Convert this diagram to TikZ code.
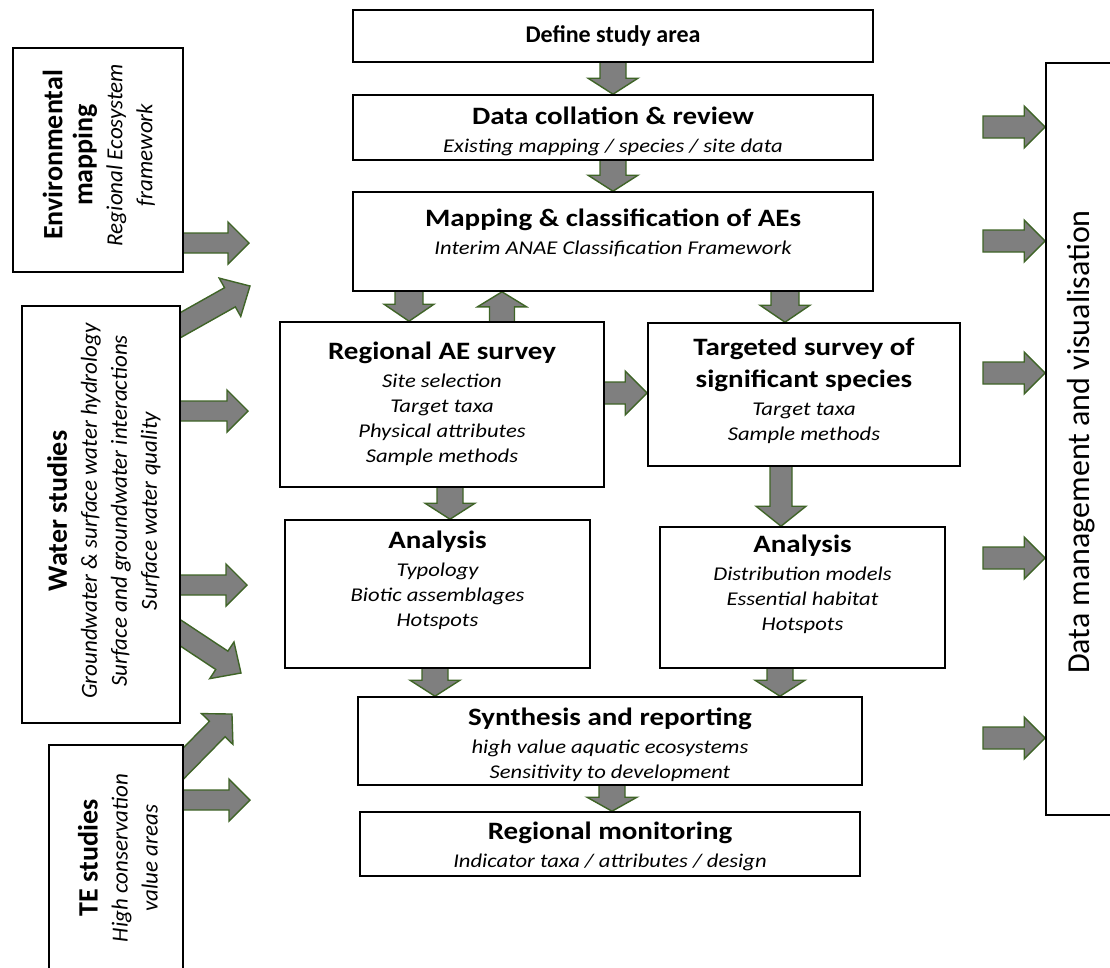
\documentclass[tikz,border=0pt]{standalone}
\usepackage{fontspec}
\setmainfont{Carlito}
\newfontfamily\widefont{Carlito}[FakeStretch=1.16]
\usetikzlibrary{calc}

\definecolor{arrowfill}{HTML}{7F7F7F}
\definecolor{arrowedge}{HTML}{3F6427}

\pgfdeclarelayer{under}
\pgfsetlayers{under,main}

% block arrow from #1 to #2: shaft half-width #3, head half-width #4, head length #5
\newcommand\blockarrow[5]{%
  \path let \p1=(#1), \p2=(#2) in
    \pgfextra{%
      \pgfmathsetmacro\baang{atan2(\y2-\y1,\x2-\x1)}%
      \pgfmathsetmacro\balen{veclen(\x2-\x1,\y2-\y1)}%
      \xdef\baang{\baang}\xdef\balen{\balen}};
  \begin{pgfonlayer}{under}
  \draw[fatarrow, shift={(#1)}, rotate=\baang]
    (0,#3) -- (\balen-#5,#3) -- (\balen-#5,#4) -- (\balen,0)
    -- (\balen-#5,-#4) -- (\balen-#5,-#3) -- (0,-#3) -- cycle;
  \end{pgfonlayer}
}

\tikzset{
  fatarrow/.style={draw=arrowedge, fill=arrowfill, line width=1.4pt, line join=miter},
  box/.style={draw=black, fill=white, line width=1.6pt, inner sep=0pt},
  boxtext/.style={align=center, inner sep=0pt,
    font=\widefont\fontsize{19.5}{25}\selectfont\itshape},
  sidetext/.style={rotate=90, align=center, inner sep=0pt,
    font=\fontsize{23}{30}\selectfont\itshape},
}
\newcommand\ttl[1]{{\upshape\bfseries\fontsize{25}{29}\selectfont #1}}
\newcommand\sidettl[1]{{\upshape\bfseries\fontsize{28}{34}\selectfont #1}}

\begin{document}
\begin{tikzpicture}[x=1pt, y=-1pt]
\useasboundingbox (0,0) rectangle (1110,967);

% ---------- central flow ----------
\node[box, minimum width=520pt, minimum height=52pt] (def) at (613,36) {};
\node[inner sep=0pt, font=\bfseries\fontsize{24}{28}\selectfont] (deftxt) at (def.center)
  {Define study area};

\node[box, minimum width=520pt, minimum height=65pt] (data) at (613,127.5) {};
\node[boxtext] (datatxt) at (613,131)
  {\ttl{Data collation \& review}\\[3pt] Existing mapping / species / site data};

\node[box, minimum width=520pt, minimum height=99pt] (map) at (613,241.5) {};
\node[boxtext] (maptxt) at (613,233)
  {\ttl{Mapping \& classification of AEs}\\[3pt] Interim ANAE Classification Framework};

\node[box, minimum width=324pt, minimum height=165pt] (reg) at (442,404.5) {};
\node[boxtext] (regtxt) at (442,404)
  {\ttl{Regional AE survey}\\[3pt] Site selection\\ Target taxa\\ Physical attributes\\ Sample methods};

\node[box, minimum width=312pt, minimum height=143pt] (targ) at (804,394.5) {};
\node[boxtext] (targtxt) at (804,391)
  {\ttl{Targeted survey of}\\[7pt] \ttl{significant species}\\[3pt] Target taxa\\ Sample methods};

\node[box, minimum width=305pt, minimum height=148pt] (anl) at (437.5,594) {};
\node[boxtext] (anltxt) at (437.5,580)
  {\ttl{Analysis}\\[3pt] Typology\\ Biotic assemblages\\ Hotspots};

\node[box, minimum width=285pt, minimum height=141pt] (anr) at (802.5,597.5) {};
\node[boxtext] (anrtxt) at (802.5,584)
  {\ttl{Analysis}\\[3pt] Distribution models\\ Essential habitat\\ Hotspots};

\node[box, minimum width=504pt, minimum height=88pt] (syn) at (610,741) {};
\node[boxtext] (syntxt) at (610,745)
  {\ttl{Synthesis and reporting}\\[3pt] high value aquatic ecosystems\\ Sensitivity to development};

\node[box, minimum width=500pt, minimum height=64pt] (mon) at (610,844) {};
\node[boxtext] (montxt) at (610,846)
  {\ttl{Regional monitoring}\\[3pt] Indicator taxa / attributes / design};

% ---------- side inputs ----------
\node[box, minimum width=170pt, minimum height=224pt] (env) at (98,160) {};
\node[sidetext] (envtxt) at (99,155)
  {\sidettl{Environmental}\\ \sidettl{mapping}\\ Regional Ecosystem\\ framework};
\node[box, minimum width=158pt, minimum height=417pt] (water) at (101,514.5) {};
\node[sidetext] (watertxt) at (104,511)
  {\sidettl{Water studies}\\ Groundwater \& surface water hydrology\\
   Surface and groundwater interactions\\ Surface water quality};
\node[box, minimum width=134pt, minimum height=250pt] (te) at (116,870) {};
\node[sidetext] (tetxt) at (118,858)
  {\sidettl{TE studies}\\ High conservation\\ value areas};

% ---------- output store ----------
\node[box, minimum width=90pt, minimum height=752pt] (dm) at (1091,439) {};
\node[rotate=90, inner sep=0pt, font=\fontsize{32}{36}\selectfont] (dmtxt) at (1081,442)
  {Data management and visualisation};

% ---------- free ends of the input arrows ----------
\coordinate (e1) at (249,243);
\coordinate (w1) at (250,286);
\coordinate (w2) at (248,411);
\coordinate (w3) at (247,585);
\coordinate (w4) at (241,673);
\coordinate (t1) at (232,714);
\coordinate (t2) at (250,800);
\coordinate (d1) at (983,127);
\coordinate (d2) at (983,241);
\coordinate (d3) at (983,373);
\coordinate (d4) at (983,558);
\coordinate (d5) at (983,738);

% ---------- arrows ----------
\blockarrow{$(def.south)+(0,-2)$}{data.north}{13}{25}{16}
\blockarrow{$(data.south)+(0,-2)$}{map.north}{13}{25}{16}
\blockarrow{$(map.south-|409,0)+(0,-2)$}{reg.north-|409,0}{14}{25}{17}
\blockarrow{$(reg.north-|502,0)+(0,2)$}{map.south-|502,0}{12.5}{24.5}{15}
\blockarrow{$(map.south-|785,0)+(0,-2)$}{targ.north-|785,0}{14}{25}{17}
\blockarrow{$(reg.east|-0,393)+(-2,0)$}{targ.west|-0,393}{11}{22}{22}
\blockarrow{$(reg.south-|450,0)+(0,-2)$}{anl.north-|450,0}{13}{25}{16}
\blockarrow{$(targ.south-|781,0)+(0,-2)$}{anr.north-|781,0}{11}{25}{20}
\blockarrow{$(anl.south-|435,0)+(0,-2)$}{syn.north-|435,0}{13}{25}{16}
\blockarrow{$(anr.south-|780,0)+(0,-2)$}{syn.north-|780,0}{13}{25}{16}
\blockarrow{$(syn.south-|612,0)+(0,-2)$}{mon.north-|612,0}{13}{25}{14}

\blockarrow{$(env.east|-0,243)+(-6,0)$}{e1}{10}{21}{21}
\blockarrow{170,331}{w1}{11}{22}{23}
\blockarrow{$(water.east|-0,411)+(-6,0)$}{w2}{10}{21}{21}
\blockarrow{$(water.east|-0,585)+(-6,0)$}{w3}{10}{21}{21}
\blockarrow{170,626}{w4}{11}{22}{23}
\blockarrow{175,772}{t1}{11}{22}{21}
\blockarrow{$(te.east|-0,800)+(-6,0)$}{t2}{10}{21}{21}

\blockarrow{d1}{dm.west|-d1}{11}{21}{21}
\blockarrow{d2}{dm.west|-d2}{11}{21}{21}
\blockarrow{d3}{dm.west|-d3}{11}{21}{21}
\blockarrow{d4}{dm.west|-d4}{11}{21}{21}
\blockarrow{d5}{dm.west|-d5}{11}{21}{21}
\end{tikzpicture}
\end{document}
